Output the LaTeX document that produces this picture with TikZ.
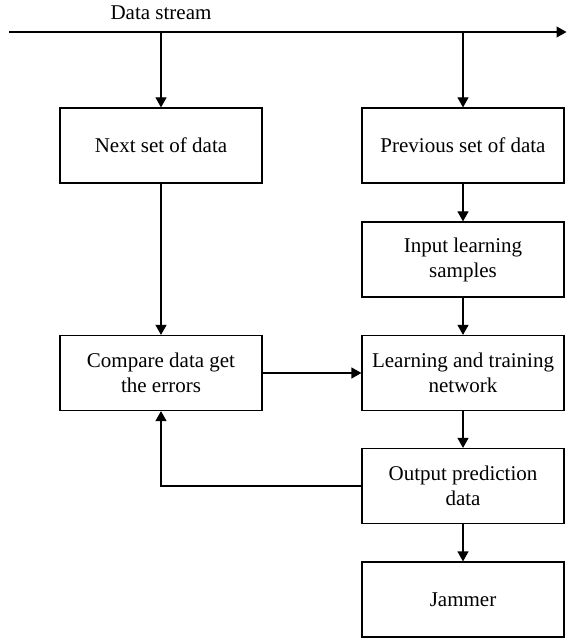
\documentclass[tikz,border=0pt]{standalone}
\usepackage{fontspec}
\setmainfont{Liberation Serif}
\usetikzlibrary{arrows.meta}

\begin{document}
\begin{tikzpicture}[x=0.5pt, y=-0.5pt,
    font=\fontsize{10.5}{12.5}\selectfont,
    block/.style={draw, line width=0.6pt, align=center, minimum width=101pt,
      minimum height=37.5pt, inner sep=2pt},
    flow/.style={line width=0.6pt, -{Triangle[length=5pt, width=5.5pt]}}]
  \useasboundingbox (0, 0) rectangle (567, 640);
  % data stream along the top
  \node (stream) at (161, 13) {Data stream};
  \coordinate (in) at (9, 32);
  \coordinate (out) at (566.5, 32);
  \coordinate (tapL) at (161, 32);
  \coordinate (tapR) at (463, 32);
  \draw [flow] (in) -- (out);
  % left column
  \node [block] (next) at (161, 145.5) {Next set of data};
  \node [block] (compare) at (161, 373) {Compare data get\\the errors};
  % right column
  \node [block] (prev) at (463, 145.5) {Previous set of data};
  \node [block] (samples) at (463, 259.5) {Input learning\\samples};
  \node [block] (train) at (463, 373) {Learning and training\\network};
  \node [block] (predict) at (463, 486) {Output prediction\\data};
  \node [block] (jammer) at (463, 599.5) {Jammer};
  % connectors
  \draw [flow] (tapL) -- (next);
  \draw [flow] (tapR) -- (prev);
  \draw [flow] (next) -- (compare);
  \draw [flow] (prev) -- (samples);
  \draw [flow] (samples) -- (train);
  \draw [flow] (train) -- (predict);
  \draw [flow] (predict) -- (jammer);
  \draw [flow] (compare) -- (train);
  \draw [flow] (predict.west) -| (compare.south);
\end{tikzpicture}
\end{document}
